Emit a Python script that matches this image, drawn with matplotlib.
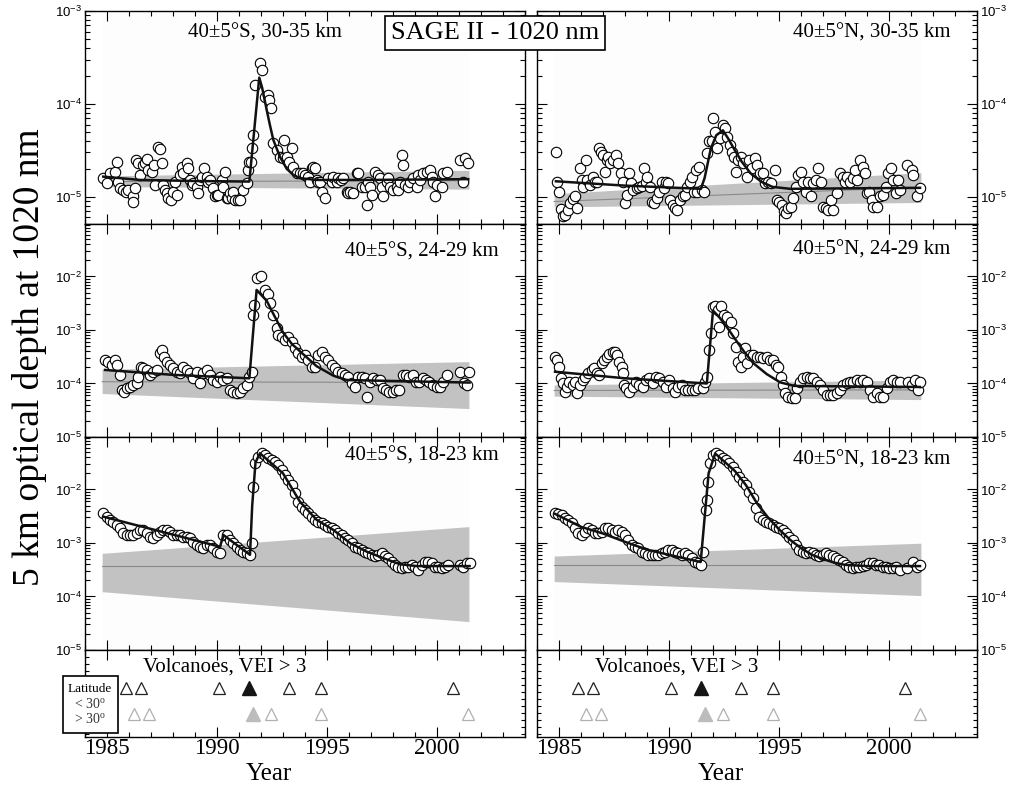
import matplotlib.pyplot as plt
import numpy as np
from matplotlib.patches import Rectangle
from matplotlib.ticker import LogLocator, NullFormatter, MultipleLocator

plt.rcParams['font.family'] = ['Liberation Serif', 'DejaVu Serif']
plt.rcParams['axes.linewidth'] = 1.0

# ---- 40S, 30-35 km (optical depth in units of 1e-5)
s30_year = [1984.83, 1984.98, 1985.14, 1985.36, 1985.44, 1985.52, 1985.59, 1985.74, 1985.86, 1985.97,
            1986.17, 1986.20, 1986.27, 1986.32, 1986.42, 1986.50, 1986.62, 1986.73, 1986.80, 1986.88,
            1987.03, 1987.14, 1987.20, 1987.33, 1987.41, 1987.48, 1987.56, 1987.64, 1987.71, 1987.79,
            1987.89, 1988.02, 1988.09, 1988.17, 1988.32, 1988.39, 1988.47, 1988.62, 1988.70, 1988.77,
            1988.85, 1988.92, 1989.08, 1989.15, 1989.23, 1989.30, 1989.41, 1989.53, 1989.61, 1989.68,
            1989.83, 1989.91, 1989.98, 1990.06, 1990.21, 1990.29, 1990.36, 1990.44, 1990.52, 1990.59,
            1990.67, 1990.74, 1990.82, 1990.97, 1991.05, 1991.20, 1991.35, 1991.42, 1991.47, 1991.53,
            1991.59, 1991.65, 1991.73, 1991.95, 1992.05, 1992.18, 1992.30, 1992.38, 1992.44, 1992.56,
            1992.71, 1992.86, 1992.98, 1993.05, 1993.17, 1993.29, 1993.39, 1993.47, 1993.62, 1993.77,
            1993.89, 1994.00, 1994.15, 1994.23, 1994.30, 1994.38, 1994.45, 1994.53, 1994.61, 1994.68,
            1994.76, 1994.91, 1995.06, 1995.21, 1995.29, 1995.44, 1995.52, 1995.62, 1995.74, 1995.89,
            1995.97, 1996.05, 1996.20, 1996.35, 1996.42, 1996.58, 1996.73, 1996.80, 1996.88, 1996.95,
            1997.03, 1997.18, 1997.33, 1997.41, 1997.48, 1997.56, 1997.71, 1997.79, 1997.86, 1998.02,
            1998.17, 1998.24, 1998.32, 1998.39, 1998.47, 1998.55, 1998.70, 1998.77, 1998.92, 1999.08,
            1999.15, 1999.23, 1999.38, 1999.53, 1999.68, 1999.76, 1999.83, 1999.91, 1999.98, 2000.21,
            2000.29, 2000.44, 2001.05, 2001.20, 2001.27, 2001.42]
s30_tau = np.array([1.59, 1.40, 1.80, 1.87, 2.40, 1.46, 1.24, 1.19, 1.14, 1.19,
                    1.01, 0.89, 1.24, 2.50, 2.30, 1.72, 2.21, 2.30, 2.55, 1.95,
                    1.87, 2.21, 1.35, 3.48, 3.30, 2.30, 1.35, 1.19, 1.09, 0.97,
                    0.93, 1.14, 1.46, 1.05, 1.72, 2.12, 1.80, 2.30, 2.03, 1.52,
                    1.35, 1.40, 1.29, 1.09, 1.52, 1.65, 2.03, 1.65, 1.46, 1.52,
                    1.24, 1.01, 1.05, 1.05, 1.52, 1.29, 1.87, 0.97, 0.97, 1.09,
                    0.97, 1.14, 0.93, 0.93, 0.93, 1.19, 1.40, 1.95, 2.40, 2.40,
                    3.34, 4.64, 16.0, 27.4, 23.2, 12.0, 12.5, 11.0, 9.0, 3.78,
                    3.20, 2.71, 2.60, 4.10, 2.71, 2.40, 3.34, 2.12, 1.80, 1.80,
                    1.80, 1.72, 1.65, 1.46, 2.03, 2.12, 2.03, 1.52, 1.46, 1.46,
                    1.14, 0.97, 1.59, 1.46, 1.65, 1.46, 1.59, 1.52, 1.59, 1.14,
                    1.09, 1.14, 1.09, 1.80, 1.80, 1.29, 1.29, 0.82, 1.46, 1.29,
                    1.05, 1.87, 1.72, 1.59, 1.29, 1.01, 1.46, 1.59, 1.29, 1.19,
                    1.29, 1.19, 1.46, 2.83, 2.21, 1.35, 1.29, 1.46, 1.59, 1.29,
                    1.72, 1.52, 1.80, 1.87, 1.95, 1.65, 1.46, 1.01, 1.35, 1.29,
                    1.80, 1.83, 2.50, 1.46, 2.60, 2.30]) * 1e-5
s30_fit_year = [1984.83, 1986.5, 1989.0, 1991.47, 1991.92, 1992.05, 1992.26, 1992.40, 1992.56,
                1992.86, 1993.17, 1993.47, 1993.77, 1994.5, 1997.0, 2001.42]
s30_fit_tau = [1.65e-5, 1.52e-5, 1.48e-5, 1.46e-5, 1.92e-4, 1.5e-4, 8.6e-5, 6.0e-5, 4.1e-5,
               2.7e-5, 2.0e-5, 1.72e-5, 1.59e-5, 1.52e-5, 1.52e-5, 1.55e-5]
s30_band = [1.29e-5, 1.21e-5, 1.46e-5, 1.49e-5, 1.68e-5, 1.93e-5]   # lo0, lo1, mid0, mid1, hi0, hi1

# ---- 40N, 30-35 km (units of 1e-5)
n30_year = [1984.86, 1984.92, 1985.02, 1985.08, 1985.17, 1985.27, 1985.39, 1985.50, 1985.62, 1985.73,
            1985.83, 1985.95, 1986.03, 1986.11, 1986.23, 1986.29, 1986.41, 1986.53, 1986.64, 1986.71,
            1986.83, 1986.91, 1987.02, 1987.09, 1987.17, 1987.24, 1987.32, 1987.47, 1987.59, 1987.70,
            1987.80, 1987.92, 1988.00, 1988.08, 1988.18, 1988.26, 1988.38, 1988.53, 1988.65, 1988.76,
            1988.86, 1988.95, 1989.02, 1989.14, 1989.21, 1989.32, 1989.44, 1989.56, 1989.67, 1989.77,
            1989.86, 1989.97, 1990.05, 1990.17, 1990.27, 1990.38, 1990.50, 1990.62, 1990.73, 1990.80,
            1990.95, 1991.03, 1991.14, 1991.23, 1991.29, 1991.38, 1991.48, 1991.59, 1991.74, 1991.83,
            1991.94, 1991.98, 1992.09, 1992.20, 1992.32, 1992.44, 1992.55, 1992.65, 1992.77, 1992.85,
            1992.95, 1993.05, 1993.15, 1993.26, 1993.38, 1993.53, 1993.65, 1993.76, 1993.91, 1994.02,
            1994.14, 1994.26, 1994.36, 1994.52, 1994.62, 1994.82, 1994.92, 1995.02, 1995.12, 1995.23,
            1995.32, 1995.42, 1995.53, 1995.65, 1995.77, 1995.88, 1995.98, 1996.11, 1996.23, 1996.33,
            1996.44, 1996.56, 1996.68, 1996.79, 1996.89, 1997.02, 1997.14, 1997.24, 1997.35, 1997.47,
            1997.62, 1997.77, 1997.89, 1998.00, 1998.11, 1998.23, 1998.35, 1998.45, 1998.56, 1998.68,
            1998.80, 1998.91, 1998.98, 1999.11, 1999.21, 1999.29, 1999.44, 1999.59, 1999.74, 1999.86,
            1999.97, 2000.08, 2000.20, 2000.32, 2000.42, 2000.50, 2000.83, 2001.03, 2001.11, 2001.26,
            2001.41]
n30_tau = np.array([3.07, 1.43, 1.14, 0.74, 0.62, 0.64, 0.72, 0.86, 0.94, 1.01,
                    0.75, 2.03, 1.52, 1.29, 2.50, 1.52, 1.35, 1.65, 1.46, 1.43,
                    3.34, 3.07, 2.83, 1.87, 2.50, 2.71, 2.30, 2.50, 2.83, 2.30,
                    1.80, 1.46, 0.86, 1.05, 1.80, 1.40, 1.19, 1.24, 1.29, 1.31,
                    2.03, 1.46, 1.65, 1.29, 0.89, 0.86, 0.97, 1.14, 1.46, 1.24,
                    1.46, 1.40, 0.93, 0.82, 0.75, 0.72, 0.93, 1.01, 1.05, 1.29,
                    1.46, 1.65, 1.14, 1.95, 1.14, 2.12, 1.19, 1.14, 2.95, 3.94,
                    3.94, 7.0, 5.0, 3.34, 4.26, 5.9, 5.5, 4.44, 3.6, 3.07,
                    2.71, 1.87, 2.50, 2.71, 2.30, 1.65, 2.50, 2.03, 2.60, 2.21,
                    1.80, 1.80, 1.40, 1.46, 1.40, 1.95, 0.93, 0.89, 0.82, 0.70,
                    0.67, 0.75, 0.78, 0.97, 1.29, 1.72, 1.87, 1.46, 1.14, 1.46,
                    1.01, 1.40, 1.52, 2.03, 1.46, 0.78, 0.75, 0.72, 0.93, 0.72,
                    1.09, 1.80, 1.65, 1.46, 1.65, 1.46, 1.59, 1.95, 1.52, 2.50,
                    2.12, 1.80, 1.09, 1.14, 0.93, 0.78, 0.78, 1.01, 1.05, 1.29,
                    1.80, 2.03, 1.52, 1.09, 1.52, 1.19, 2.21, 1.95, 1.72, 1.01,
                    1.24]) * 1e-5
n30_fit_year = [1984.86, 1988.0, 1991.45, 1991.62, 1991.9, 1992.15, 1992.45, 1992.7, 1992.95,
                1993.3, 1993.7, 1994.2, 1994.7, 1995.5, 2001.41]
n30_fit_tau = [1.47e-5, 1.32e-5, 1.22e-5, 1.6e-5, 3.3e-5, 4.6e-5, 5.2e-5, 4.2e-5, 3.3e-5,
               2.4e-5, 1.8e-5, 1.45e-5, 1.28e-5, 1.22e-5, 1.25e-5]
n30_band = [7.8e-6, 8.7e-6, 8.9e-6, 1.27e-5, 1.08e-5, 1.82e-5]

# ---- 40S, 24-29 km
s24_year = [1984.91, 1985.06, 1985.21, 1985.36, 1985.44, 1985.59, 1985.67, 1985.77, 1985.89, 1986.05,
            1986.20, 1986.35, 1986.42, 1986.53, 1986.65, 1986.80, 1986.95, 1987.11, 1987.26, 1987.41,
            1987.48, 1987.59, 1987.71, 1987.86, 1988.02, 1988.17, 1988.32, 1988.47, 1988.62, 1988.77,
            1988.92, 1989.08, 1989.23, 1989.38, 1989.53, 1989.68, 1989.83, 1989.98, 1990.14, 1990.29,
            1990.44, 1990.59, 1990.74, 1990.89, 1991.05, 1991.20, 1991.35, 1991.47, 1991.58, 1991.65,
            1991.68, 1991.80, 1991.98, 1992.18, 1992.33, 1992.41, 1992.56, 1992.71, 1992.79, 1992.94,
            1993.09, 1993.24, 1993.39, 1993.55, 1993.70, 1993.85, 1994.00, 1994.15, 1994.30, 1994.45,
            1994.61, 1994.76, 1994.91, 1995.06, 1995.21, 1995.36, 1995.52, 1995.67, 1995.82, 1995.97,
            1996.12, 1996.27, 1996.42, 1996.58, 1996.73, 1996.80, 1996.95, 1997.11, 1997.26, 1997.41,
            1997.53, 1997.68, 1997.83, 1997.98, 1998.14, 1998.29, 1998.44, 1998.59, 1998.74, 1998.89,
            1999.05, 1999.20, 1999.35, 1999.50, 1999.65, 1999.80, 1999.98, 2000.14, 2000.29, 2000.45,
            2001.06, 2001.21, 2001.36, 2001.45]
s24_tau = [2.75e-4, 2.56e-4, 2.22e-4, 2.75e-4, 2.22e-4, 1.44e-4, 7.6e-5, 7.0e-5, 8.1e-5, 8.7e-5,
           9.4e-5, 1.01e-4, 1.34e-4, 2.06e-4, 1.92e-4, 1.79e-4, 1.44e-4, 1.66e-4, 1.79e-4, 3.66e-4,
           4.23e-4, 3.18e-4, 2.56e-4, 2.22e-4, 1.92e-4, 1.66e-4, 1.55e-4, 2.06e-4, 1.79e-4, 1.55e-4,
           1.25e-4, 1.66e-4, 1.01e-4, 1.55e-4, 1.79e-4, 1.44e-4, 1.16e-4, 1.08e-4, 1.34e-4, 1.16e-4,
           1.25e-4, 7.6e-5, 7.0e-5, 6.5e-5, 7.0e-5, 8.1e-5, 9.4e-5, 1.34e-4, 1.66e-4, 1.91e-3,
           2.93e-3, 9.5e-3, 1.0e-2, 5.6e-3, 4.6e-3, 3.15e-3, 1.91e-3, 1.07e-3, 8.1e-4, 7.5e-4,
           6.5e-4, 7.5e-4, 6.05e-4, 4.54e-4, 3.66e-4, 3.18e-4, 3.41e-4, 2.75e-4, 2.06e-4, 2.06e-4,
           3.41e-4, 3.94e-4, 3.18e-4, 2.75e-4, 2.22e-4, 1.92e-4, 1.66e-4, 1.55e-4, 1.44e-4, 1.34e-4,
           1.01e-4, 8.7e-5, 1.34e-4, 1.34e-4, 1.25e-4, 5.7e-5, 1.08e-4, 1.25e-4, 1.16e-4, 1.16e-4,
           8.1e-5, 7.6e-5, 7.0e-5, 7.0e-5, 7.6e-5, 7.6e-5, 1.44e-4, 1.44e-4, 1.34e-4, 1.44e-4,
           1.08e-4, 1.08e-4, 1.25e-4, 1.16e-4, 1.08e-4, 9.4e-5, 8.7e-5, 8.7e-5, 1.08e-4, 1.44e-4,
           1.66e-4, 1.01e-4, 9.4e-5, 1.66e-4]
s24_fit_year = [1984.91, 1988.0, 1991.47, 1991.80, 1992.26, 1992.56, 1993.0, 1993.4, 1993.77,
                1994.53, 1995.29, 1995.9, 2001.48]
s24_fit_tau = [1.79e-4, 1.45e-4, 1.25e-4, 5.6e-3, 3.5e-3, 2.0e-3, 9.0e-4, 5.5e-4, 4.0e-4,
               2.1e-4, 1.4e-4, 1.16e-4, 1.04e-4]
s24_band = [6.5e-5, 3.4e-5, 1.08e-4, 1.04e-4, 1.84e-4, 2.56e-4]

# ---- 40N, 24-29 km
n24_year = [1984.82, 1984.89, 1985.02, 1985.08, 1985.17, 1985.27, 1985.35, 1985.47, 1985.62, 1985.73,
            1985.83, 1985.95, 1986.08, 1986.18, 1986.33, 1986.48, 1986.59, 1986.71, 1986.83, 1986.94,
            1987.05, 1987.17, 1987.29, 1987.44, 1987.55, 1987.65, 1987.74, 1987.85, 1987.92, 1987.95,
            1988.05, 1988.20, 1988.35, 1988.50, 1988.65, 1988.80, 1988.95, 1989.11, 1989.26, 1989.41,
            1989.56, 1989.71, 1989.86, 1990.02, 1990.17, 1990.27, 1990.42, 1990.58, 1990.73, 1990.88,
            1991.03, 1991.18, 1991.33, 1991.53, 1991.64, 1991.74, 1991.83, 1991.91, 1991.98, 1992.09,
            1992.24, 1992.29, 1992.35, 1992.50, 1992.65, 1992.80, 1992.92, 1993.05, 1993.15, 1993.26,
            1993.35, 1993.45, 1993.56, 1993.68, 1993.83, 1993.98, 1994.14, 1994.29, 1994.44, 1994.59,
            1994.74, 1994.86, 1994.97, 1995.08, 1995.17, 1995.27, 1995.42, 1995.58, 1995.73, 1995.83,
            1995.95, 1996.11, 1996.26, 1996.41, 1996.56, 1996.71, 1996.86, 1997.02, 1997.17, 1997.32,
            1997.47, 1997.62, 1997.77, 1997.92, 1998.08, 1998.23, 1998.38, 1998.53, 1998.68, 1998.83,
            1998.98, 1999.14, 1999.29, 1999.44, 1999.59, 1999.74, 1999.89, 2000.05, 2000.20, 2000.35,
            2000.50, 2000.88, 2001.03, 2001.18, 2001.33, 2001.41]
n24_tau = [3.18e-4, 2.75e-4, 2.06e-4, 1.25e-4, 1.01e-4, 7.0e-5, 8.7e-5, 1.08e-4, 9.4e-5, 1.08e-4,
           6.7e-5, 9.4e-5, 1.16e-4, 1.34e-4, 1.55e-4, 1.79e-4, 1.92e-4, 1.55e-4, 1.44e-4, 2.38e-4,
           2.75e-4, 3.18e-4, 3.5e-4, 3.8e-4, 3.8e-4, 3.41e-4, 2.56e-4, 2.06e-4, 1.55e-4, 9.4e-5,
           8.1e-5, 7.0e-5, 8.7e-5, 1.08e-4, 9.4e-5, 8.7e-5, 1.16e-4, 1.25e-4, 1.01e-4, 1.34e-4,
           1.25e-4, 1.08e-4, 8.7e-5, 1.16e-4, 8.1e-5, 7.0e-5, 8.7e-5, 9.4e-5, 7.6e-5, 7.6e-5,
           7.6e-5, 7.6e-5, 8.1e-5, 8.1e-5, 1.08e-4, 1.34e-4, 4.23e-4, 8.7e-4, 2.7e-3, 2.75e-3,
           2.36e-3, 1.15e-3, 2.75e-3, 1.91e-3, 1.77e-3, 1.4e-3, 8.7e-4, 4.9e-4, 2.56e-4, 2.06e-4,
           3.18e-4, 4.54e-4, 2.38e-4, 3.41e-4, 3.41e-4, 3.18e-4, 3.18e-4, 2.95e-4, 3.18e-4, 2.75e-4,
           2.75e-4, 2.22e-4, 2.06e-4, 1.34e-4, 9.4e-5, 6.5e-5, 5.7e-5, 5.3e-5, 5.3e-5, 8.1e-5,
           1.08e-4, 1.25e-4, 1.34e-4, 1.25e-4, 1.25e-4, 1.08e-4, 9.4e-5, 7.6e-5, 6.1e-5, 6.1e-5,
           6.1e-5, 6.5e-5, 7.6e-5, 9.4e-5, 1.01e-4, 1.08e-4, 1.08e-4, 1.16e-4, 1.08e-4, 1.16e-4,
           1.08e-4, 7.6e-5, 5.7e-5, 6.5e-5, 5.7e-5, 5.7e-5, 8.1e-5, 1.08e-4, 1.16e-4, 1.08e-4,
           1.08e-4, 1.08e-4, 9.4e-5, 1.16e-4, 7.6e-5, 1.08e-4]
n24_fit_year = [1984.82, 1988.0, 1991.72, 1992.0, 1992.3, 1992.62, 1993.0, 1993.4, 1993.83,
                1994.44, 1995.05, 1995.7, 2001.41]
n24_fit_tau = [1.66e-4, 1.25e-4, 1.0e-4, 2.3e-3, 1.7e-3, 1.15e-3, 6.8e-4, 4.0e-4, 2.4e-4,
               1.5e-4, 1.05e-4, 9.0e-5, 8.6e-5]
n24_band = [5.8e-5, 5.0e-5, 7.4e-5, 7.6e-5, 9.4e-5, 1.16e-4]

# ---- 40S, 18-23 km
s18_year = [1984.83, 1984.98, 1985.14, 1985.29, 1985.44, 1985.59, 1985.74, 1985.89, 1986.05, 1986.20,
            1986.35, 1986.50, 1986.65, 1986.80, 1986.95, 1987.11, 1987.26, 1987.41, 1987.56, 1987.71,
            1987.86, 1988.02, 1988.17, 1988.32, 1988.47, 1988.62, 1988.77, 1988.92, 1989.08, 1989.23,
            1989.38, 1989.53, 1989.68, 1989.83, 1989.98, 1990.14, 1990.29, 1990.44, 1990.59, 1990.74,
            1990.89, 1991.05, 1991.20, 1991.35, 1991.50, 1991.58, 1991.65, 1991.73, 1991.88, 1992.03,
            1992.18, 1992.33, 1992.48, 1992.64, 1992.79, 1992.94, 1993.09, 1993.24, 1993.39, 1993.55,
            1993.70, 1993.85, 1994.00, 1994.15, 1994.30, 1994.45, 1994.61, 1994.76, 1994.91, 1995.06,
            1995.21, 1995.36, 1995.52, 1995.67, 1995.82, 1995.97, 1996.12, 1996.27, 1996.42, 1996.58,
            1996.73, 1996.88, 1997.03, 1997.18, 1997.33, 1997.48, 1997.64, 1997.79, 1997.94, 1998.09,
            1998.24, 1998.39, 1998.55, 1998.70, 1998.85, 1999.00, 1999.15, 1999.30, 1999.45, 1999.61,
            1999.76, 1999.91, 2000.06, 2000.21, 2000.36, 2000.52, 2001.05, 2001.20, 2001.35, 2001.48]
s18_tau = [3.59e-3, 3.11e-3, 2.69e-3, 2.5e-3, 2.17e-3, 1.88e-3, 1.52e-3, 1.41e-3, 1.41e-3, 1.41e-3,
           1.52e-3, 1.75e-3, 1.75e-3, 1.52e-3, 1.31e-3, 1.22e-3, 1.41e-3, 1.63e-3, 1.75e-3, 1.75e-3,
           1.63e-3, 1.41e-3, 1.41e-3, 1.41e-3, 1.31e-3, 1.31e-3, 1.22e-3, 1.06e-3, 9.2e-4, 8.5e-4,
           7.9e-4, 9.2e-4, 9.2e-4, 7.9e-4, 6.9e-4, 6.4e-4, 1.41e-3, 1.41e-3, 1.14e-3, 9.9e-4,
           8.5e-4, 7.4e-4, 6.9e-4, 6.4e-4, 6.0e-4, 9.9e-4, 1.13e-2, 3.08e-2, 4.11e-2, 4.74e-2,
           4.4e-2, 3.8e-2, 3.56e-2, 3.3e-2, 2.87e-2, 2.31e-2, 1.86e-2, 1.51e-2, 1.21e-2, 8.5e-3,
           5.9e-3, 4.8e-3, 4.14e-3, 3.59e-3, 3.11e-3, 2.69e-3, 2.5e-3, 2.33e-3, 2.17e-3, 2.02e-3,
           1.88e-3, 1.75e-3, 1.52e-3, 1.41e-3, 1.22e-3, 1.14e-3, 9.9e-4, 8.5e-4, 7.9e-4, 7.4e-4,
           6.9e-4, 6.4e-4, 6.0e-4, 5.6e-4, 6.0e-4, 6.4e-4, 5.6e-4, 5.2e-4, 4.5e-4, 3.9e-4,
           3.61e-4, 3.4e-4, 3.61e-4, 3.61e-4, 3.9e-4, 3.61e-4, 3.13e-4, 3.9e-4, 4.5e-4, 4.5e-4,
           4.17e-4, 3.61e-4, 3.61e-4, 3.4e-4, 3.61e-4, 3.9e-4, 3.9e-4, 3.61e-4, 4.17e-4, 4.3e-4]
s18_fit_year = [1984.83, 1990.14, 1990.29, 1991.50, 1991.60, 1991.75, 1991.95, 1993.0, 1993.77,
                1994.53, 1995.29, 1996.05, 1996.8, 1997.56, 1998.32, 1999.08, 2001.48]
s18_fit_tau = [3.1e-3, 8.5e-4, 1.41e-3, 6.0e-4, 5.0e-3, 3.2e-2, 4.74e-2, 2.0e-2, 5.9e-3,
               2.7e-3, 1.75e-3, 9.9e-4, 6.9e-4, 5.2e-4, 4.0e-4, 3.7e-4, 3.7e-4]
s18_band = [1.23e-4, 3.39e-5, 3.78e-4, 3.78e-4, 6.4e-4, 2.02e-3]

# ---- 40N, 18-23 km
n18_year = [1984.82, 1984.97, 1985.12, 1985.27, 1985.42, 1985.58, 1985.73, 1985.88, 1986.03, 1986.18,
            1986.33, 1986.48, 1986.64, 1986.79, 1986.94, 1987.09, 1987.24, 1987.39, 1987.55, 1987.70,
            1987.85, 1988.00, 1988.15, 1988.30, 1988.45, 1988.61, 1988.76, 1988.91, 1989.06, 1989.21,
            1989.36, 1989.52, 1989.67, 1989.82, 1989.97, 1990.12, 1990.27, 1990.42, 1990.58, 1990.73,
            1990.88, 1991.03, 1991.18, 1991.33, 1991.44, 1991.56, 1991.67, 1991.71, 1991.79, 1991.86,
            1991.98, 1992.14, 1992.29, 1992.44, 1992.59, 1992.74, 1992.89, 1993.05, 1993.20, 1993.35,
            1993.50, 1993.65, 1993.80, 1993.95, 1994.11, 1994.26, 1994.41, 1994.56, 1994.71, 1994.86,
            1995.02, 1995.17, 1995.32, 1995.47, 1995.62, 1995.77, 1995.92, 1996.08, 1996.23, 1996.38,
            1996.53, 1996.68, 1996.83, 1996.98, 1997.14, 1997.29, 1997.44, 1997.59, 1997.74, 1997.89,
            1998.05, 1998.20, 1998.35, 1998.50, 1998.65, 1998.80, 1998.95, 1999.11, 1999.26, 1999.41,
            1999.56, 1999.71, 1999.86, 2000.02, 2000.17, 2000.32, 2000.50, 2000.80, 2001.11, 2001.26,
            2001.41]
n18_tau = [3.7e-3, 3.5e-3, 3.3e-3, 2.9e-3, 2.69e-3, 2.33e-3, 1.88e-3, 1.52e-3, 1.41e-3, 1.63e-3,
           1.88e-3, 1.75e-3, 1.52e-3, 1.52e-3, 1.63e-3, 1.88e-3, 1.88e-3, 1.75e-3, 1.63e-3, 1.75e-3,
           1.63e-3, 1.41e-3, 1.14e-3, 9.2e-4, 8.5e-4, 7.9e-4, 6.9e-4, 6.4e-4, 6.0e-4, 6.0e-4,
           6.0e-4, 6.0e-4, 6.4e-4, 6.9e-4, 7.4e-4, 7.4e-4, 6.9e-4, 6.4e-4, 6.0e-4, 6.4e-4,
           6.0e-4, 5.2e-4, 4.5e-4, 4.17e-4, 3.9e-4, 6.9e-4, 4.14e-3, 6.4e-3, 1.4e-2, 3.08e-2,
           4.4e-2, 4.74e-2, 4.4e-2, 3.8e-2, 3.56e-2, 3.08e-2, 2.67e-2, 2.15e-2, 1.74e-2, 1.40e-2,
           1.21e-2, 9.1e-3, 6.8e-3, 4.5e-3, 3.11e-3, 2.69e-3, 2.5e-3, 2.33e-3, 2.17e-3, 2.02e-3,
           1.88e-3, 1.75e-3, 1.52e-3, 1.31e-3, 1.14e-3, 9.2e-4, 7.4e-4, 6.9e-4, 6.4e-4, 6.9e-4,
           6.4e-4, 6.0e-4, 5.6e-4, 6.0e-4, 6.4e-4, 6.0e-4, 5.6e-4, 5.2e-4, 4.8e-4, 4.5e-4,
           3.9e-4, 3.61e-4, 3.4e-4, 3.61e-4, 3.61e-4, 3.7e-4, 3.9e-4, 4.17e-4, 4.3e-4, 3.9e-4,
           3.9e-4, 3.61e-4, 3.61e-4, 3.4e-4, 3.4e-4, 3.61e-4, 3.13e-4, 3.4e-4, 4.5e-4, 3.61e-4,
           3.9e-4]
n18_fit_year = [1984.82, 1986.0, 1987.0, 1988.0, 1989.0, 1990.0, 1991.44, 1991.62, 1991.8, 1992.1,
                1993.0, 1993.5, 1994.0, 1994.5, 1995.0, 1995.5, 1996.0, 1996.5, 1997.0, 1997.5,
                1998.0, 1999.0, 2001.41]
n18_fit_tau = [3.5e-3, 2.0e-3, 1.5e-3, 1.05e-3, 7.5e-4, 6.0e-4, 4.4e-4, 3.0e-3, 2.0e-2, 4.7e-2,
               2.2e-2, 1.2e-2, 5.5e-3, 3.0e-3, 1.8e-3, 1.15e-3, 8.0e-4, 6.0e-4, 5.0e-4, 4.3e-4,
               3.9e-4, 3.7e-4, 3.7e-4]
n18_band = [1.9e-4, 1.04e-4, 3.8e-4, 3.8e-4, 5.7e-4, 9.9e-4]

band_years = [1984.78, 2001.45]

# volcanic eruptions with VEI > 3
trop_year = [1985.85, 1986.55, 1990.09, 1993.28, 1994.71, 2000.72]   # latitude < 30
trop_major = 1991.45
extra_year = [1986.23, 1986.90, 1992.47, 1994.72, 2001.40]           # latitude > 30
extra_major = 1991.62

panel_labels = [['40±5°S, 30-35 km', '40±5°S, 24-29 km', '40±5°S, 18-23 km'],
                ['40±5°N, 30-35 km', '40±5°N, 24-29 km', '40±5°N, 18-23 km']]
panel_data = [[(s30_year, s30_tau, s30_fit_year, s30_fit_tau, s30_band),
               (s24_year, s24_tau, s24_fit_year, s24_fit_tau, s24_band),
               (s18_year, s18_tau, s18_fit_year, s18_fit_tau, s18_band)],
              [(n30_year, n30_tau, n30_fit_year, n30_fit_tau, n30_band),
               (n24_year, n24_tau, n24_fit_year, n24_fit_tau, n24_band),
               (n18_year, n18_tau, n18_fit_year, n18_fit_tau, n18_band)]]
ylims = [(5.1e-6, 1e-3), (1e-5, 0.0955), (1e-5, 0.0955)]
label_pos = [[(0.584, 0.897), (0.939, 0.87), (0.939, 0.91)],
             [(0.939, 0.897), (0.939, 0.88), (0.939, 0.89)]]

W, H = 1011, 794
fig = plt.figure(figsize=(W / 100, H / 100), dpi=100)

col_x = [85 / W, 537 / W]
col_w = 440 / W
row_y = [(H - 224) / H, (H - 437) / H, (H - 650) / H]
row_h = 213 / H

for c in range(2):
    for r in range(3):
        years, tau, fit_years, fit_tau, band = panel_data[c][r]
        ax = fig.add_axes([col_x[c], row_y[r], col_w, row_h])
        ax.set_yscale('log')
        ax.set_xlim(1984, 2004)
        ax.set_ylim(*ylims[r])

        ax.axvspan(band_years[0], band_years[1], color='#fdfdfd', lw=0, zorder=0)
        ax.fill_between(band_years, [band[0], band[1]], [band[4], band[5]],
                        color='#c2c2c2', lw=0, zorder=1)
        ax.plot(band_years, [band[2], band[3]], color='#8a8a8a', lw=0.8, zorder=2)
        ax.plot(years, tau, 'o', ms=7.5, mfc='white', mec='black', mew=0.8, ls='none', zorder=3)
        ax.plot(fit_years, fit_tau, color='#111111', lw=1.8, zorder=4)

        lx, ly = label_pos[c][r]
        ax.text(lx, ly, panel_labels[c][r], transform=ax.transAxes, ha='right', va='center',
                fontsize=15)

        ax.yaxis.set_major_locator(LogLocator(base=10, numticks=10))
        ax.yaxis.set_minor_locator(LogLocator(base=10, subs=np.arange(2, 10), numticks=20))
        ax.yaxis.set_minor_formatter(NullFormatter())
        ax.xaxis.set_major_locator(MultipleLocator(5))
        ax.xaxis.set_minor_locator(MultipleLocator(1))
        ax.tick_params(which='both', direction='in', top=True, bottom=True, left=True, right=True,
                       labelbottom=False, width=0.8)
        ax.tick_params(which='major', length=7)
        ax.tick_params(which='minor', length=3.5)
        ax.tick_params(axis='y', labelleft=(c == 0), labelright=(c == 1), labelsize=9.5,
                       labelfontfamily='Liberation Sans', pad=2)

    # volcano strip under each column
    vx = fig.add_axes([col_x[c], (H - 737) / H, col_w, 87 / H])
    vx.set_xlim(1984, 2004)
    vx.set_ylim(0, 1)
    vx.plot(trop_year, [0.563] * len(trop_year), '^', ms=8, mfc='none', mec='#222222', mew=0.9)
    vx.plot([trop_major], [0.563], '^', ms=10.5, color='#151515')
    vx.plot(extra_year, [0.264] * len(extra_year), '^', ms=8, mfc='none', mec='#b0b0b0', mew=0.9)
    vx.plot([extra_major], [0.264], '^', ms=10.5, color='#bcbcbc')
    vx.text(0.317, 0.80, 'Volcanoes, VEI > 3', transform=vx.transAxes, ha='center', va='center',
            fontsize=15)
    vx.text(0.418, -0.494, 'Year', transform=vx.transAxes, ha='center', va='baseline', fontsize=18)
    vx.xaxis.set_major_locator(MultipleLocator(5))
    vx.xaxis.set_minor_locator(MultipleLocator(1))
    vx.set_yticks(np.arange(0.04, 1.0, 0.08))
    vx.set_yticklabels([])
    vx.tick_params(which='both', direction='in', top=True, bottom=True, left=True, right=True,
                   width=0.8)
    vx.tick_params(axis='x', which='major', length=7, labelsize=16.5, pad=1)
    vx.tick_params(axis='x', which='minor', length=3.5)
    vx.tick_params(axis='y', length=3)

fig.text(495 / W, 1 - 33 / H, 'SAGE II - 1020 nm', ha='center', va='center', fontsize=19,
         zorder=10, bbox=dict(boxstyle='square,pad=0.22', fc='white', ec='black', lw=1.2))

fig.text(30 / W, 1 - 357 / H, '5 km optical depth at 1020 nm', rotation=90, ha='center',
         va='center', fontsize=27)

# latitude key box
fig.add_artist(Rectangle((63 / W, (H - 733) / H), 55 / W, 57 / H, transform=fig.transFigure,
                         fc='white', ec='black', lw=1.2, zorder=10))
fig.text(90 / W, 1 - 689 / H, 'Latitude', ha='center', va='center', fontsize=9.5, zorder=11)
fig.text(90 / W, 1 - 705 / H, r'< 30$^\mathdefault{o}$', ha='center', va='center', fontsize=10,
         color='#333333', zorder=11)
fig.text(90 / W, 1 - 720 / H, r'> 30$^\mathdefault{o}$', ha='center', va='center', fontsize=10,
         color='#333333', zorder=11)

fig.savefig('out.png', dpi=100)
